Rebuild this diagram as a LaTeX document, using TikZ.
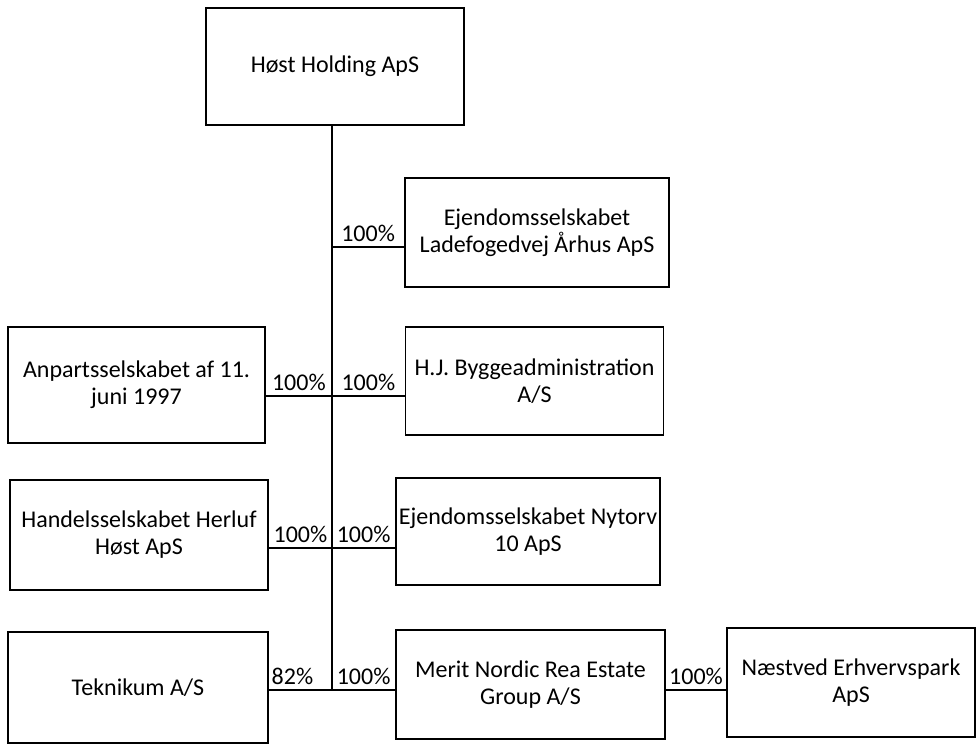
\documentclass[tikz,border=0pt]{standalone}
\usepackage{fontspec}
\setmainfont{Carlito}
\begin{document}
\begin{tikzpicture}[x=0.5pt,y=-0.5pt,line width=0.8pt,
    box/.style={draw,align=center,inner sep=1pt,font=\fontsize{12}{13.5}\selectfont},
    pct/.style={above,inner sep=2.5pt,font=\fontsize{12}{13.5}\selectfont}]
    \useasboundingbox (0,0) rectangle (977,744);
    % companies
    \node[box,minimum width=129pt,minimum height=58.5pt] (hold) at (335,66.5) {Høst Holding ApS};
    \node[box,minimum width=132pt,minimum height=54.5pt] (lade) at (537,232.5) {Ejendomsselskabet\\Ladefogedvej Århus ApS};
    \node[box,minimum width=128.5pt,minimum height=58pt] (anp) at (136.5,385) {Anpartsselskabet af 11.\\juni 1997};
    \node[box,minimum width=129pt,minimum height=54pt] (hj) at (534.5,381) {H.J. Byggeadministration\\A/S};
    \node[box,minimum width=129pt,minimum height=55pt] (hand) at (139,535) {Handelsselskabet Herluf\\Høst ApS};
    \node[box,minimum width=132pt,minimum height=53.5pt] (nyt) at (528,531.5) {Ejendomsselskabet Nytorv\\10 ApS};
    \node[box,minimum width=130pt,minimum height=55.5pt] (tek) at (138,687.5) {Teknikum A/S};
    \node[box,minimum width=134.5pt,minimum height=54.5pt] (merit) at (530.5,684.5) {Merit Nordic Rea Estate\\Group A/S};
    \node[box,minimum width=124pt,minimum height=54.5pt] (naes) at (851,682.5) {Næstved Erhvervspark\\ApS};
    % ownership lines
    \coordinate (j1) at (332,247);
    \coordinate (j2) at (332,396);
    \coordinate (j3) at (332,548);
    \coordinate (j4) at (332,690);
    \draw (j1 |- hold.south) -- (j4);
    \draw (j1) -- node[pct] {100\%} (j1 -| lade.west);
    \draw (anp.east |- j2) -- node[pct] {100\%} (j2) -- node[pct] {100\%} (j2 -| hj.west);
    \draw (hand.east |- j3) -- node[pct] {100\%} (j3) -- node[pct] {100\%} (j3 -| nyt.west);
    \draw (tek.east |- j4) -- node[pct,xshift=-4pt] {82\%} (j4) -- node[pct] {100\%} (j4 -| merit.west);
    \draw (merit.east |- j4) -- node[pct] {100\%} (j4 -| naes.west);
\end{tikzpicture}
\end{document}
